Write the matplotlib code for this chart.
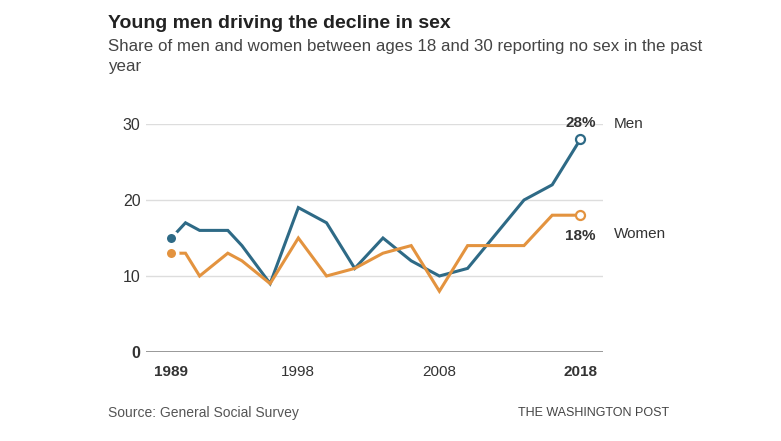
import matplotlib.pyplot as plt

# GSS survey years and share reporting no sex in the past year (%)
years = [1989, 1990, 1991, 1993, 1994, 1996, 1998, 2000, 2002, 2004, 2006, 2008, 2010, 2014, 2016, 2018]
men = [15, 17, 16, 16, 14, 9, 19, 17, 11, 15, 12, 10, 11, 20, 22, 28]
women = [13, 13, 10, 13, 12, 9, 15, 10, 11, 13, 14, 8, 14, 14, 18, 18]

xticks = [1989, 1998, 2008, 2018]
yticks = [0, 10, 20, 30]

men_color = "#2e6a86"
women_color = "#e3933f"
text_color = "#333333"

plt.rcParams['font.family'] = ['Liberation Sans', 'DejaVu Sans']

fig = plt.figure(figsize=(7.81, 4.41), dpi=100)
ax = fig.add_axes([146 / 781, 89 / 441, 457 / 781, 228 / 441])

ax.set_xlim(1987.2, 2019.6)
ax.set_ylim(0, 30)

# gridlines
for y in yticks:
    ax.axhline(y, color="#888888" if y == 0 else "#dddddd", lw=1.2 if y == 0 else 1, zorder=1)

# line, first year dot with a white halo, open end marker
for vals, col in [(men, men_color), (women, women_color)]:
    ax.plot(years, vals, color=col, lw=2.2, zorder=3, solid_joinstyle="miter", clip_on=False)
    ax.plot(years[0], vals[0], "o", mfc=col, mec="white", mew=2.5, ms=9, zorder=4, clip_on=False)
    ax.plot(years[-1], vals[-1], "o", mfc="white", mec=col, mew=1.6, ms=6.5, zorder=5, clip_on=False)

for s in ax.spines.values():
    s.set_visible(False)

ax.set_yticks(yticks)
ax.set_yticklabels([str(y) for y in yticks], fontsize=11.5, color=text_color)
ax.set_xticks(xticks)
ax.set_xticklabels([str(x) for x in xticks], fontsize=11, color=text_color)
for lbl in ax.get_xticklabels():
    if lbl.get_text() in ("1989", "2018"):
        lbl.set_fontweight("bold")
ax.get_yticklabels()[0].set_fontweight("bold")
ax.tick_params(axis="y", length=0, pad=4)
ax.tick_params(axis="x", length=0, pad=9)

# end labels
ax.annotate("28%", (2018, 28), xytext=(0, 12), textcoords="offset points",
            ha="center", va="center", fontsize=11, fontweight="bold", color=text_color)
ax.annotate("Men", (2018, 30), xytext=(24, 0), textcoords="offset points",
            ha="left", va="center", fontsize=11, color=text_color)
ax.annotate("18%", (2018, 18), xytext=(0, -15), textcoords="offset points",
            ha="center", va="center", fontsize=11, fontweight="bold", color=text_color)
ax.annotate("Women", (2018, 15.5), xytext=(24, 0), textcoords="offset points",
            ha="left", va="center", fontsize=11, color=text_color)

fig.text(108 / 781, 1 - 24 / 441, "Young men driving the decline in sex",
         fontsize=14, fontweight="bold", color="#222222", va="center")
fig.text(108 / 781, 1 - 46 / 441, "Share of men and women between ages 18 and 30 reporting no sex in the past",
         fontsize=12.2, color="#444444", va="center")
fig.text(108 / 781, 1 - 67 / 441, "year", fontsize=12.2, color="#444444", va="center")

fig.text(108 / 781, 1 - 413 / 441, "Source: General Social Survey", fontsize=10, color="#555555", va="center")
fig.text(669 / 781, 1 - 413 / 441, "THE WASHINGTON POST", fontsize=9, color="#444444", va="center", ha="right")

fig.savefig("out.png", dpi=100)
